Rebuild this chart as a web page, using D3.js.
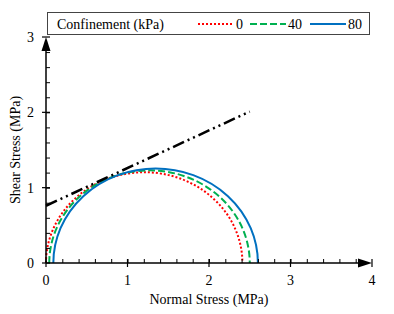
<!DOCTYPE html>
<html>
<head>
<meta charset="utf-8">
<script src="https://cdn.jsdelivr.net/npm/d3@7"></script>
<style>
  body { margin: 0; background: #fff; }
  svg { display: block; font-family: "Liberation Serif", "Times New Roman", serif; }
</style>
</head>
<body>
<svg id="chart" width="394" height="314"></svg>
<script>
// Mohr circles, one per confinement level (MPa)
const confinement = ["0", "40", "80"];
const sigma3 = [0.0, 0.04, 0.09];
const sigma1 = [2.41, 2.5, 2.6];
const colors = ["#ff0000", "#00b050", "#0070c0"];
const dashes = ["2,2", "7,3", null];
// failure envelope
const envX = [0, 2.5];
const envY = [0.76, 2.01];
const xTicks = [0, 1, 2, 3, 4];
const yTicks = [0, 1, 2, 3];

const svg = d3.select("#chart");
const margin = { left: 46, right: 22, top: 37, bottom: 51 };
const W = 394, H = 314;

const x = d3.scaleLinear().domain([0, 4]).range([margin.left, W - margin.right]);
const y = d3.scaleLinear().domain([0, 3]).range([H - margin.bottom, margin.top]);

// circles
confinement.forEach((c, i) => {
  const rx = x(sigma1[i]) - x(sigma3[i]);
  const ry = y(0) - y((sigma1[i] - sigma3[i]) / 2);
  const p = svg.append("path")
    .attr("d", `M${x(sigma3[i])},${y(0)} A${rx / 2},${ry} 0 0 1 ${x(sigma1[i])},${y(0)}`)
    .attr("fill", "none")
    .attr("stroke", colors[i])
    .attr("stroke-width", 2);
  if (dashes[i]) p.attr("stroke-dasharray", dashes[i]);
});

// envelope
svg.append("line")
  .attr("x1", x(envX[0])).attr("y1", y(envY[0]))
  .attr("x2", x(envX[1])).attr("y2", y(envY[1]))
  .attr("stroke", "#000")
  .attr("stroke-width", 2.5)
  .attr("stroke-dasharray", "12,4,2,4,2,4");

// axes
function xAxis(g) {
  g.attr("transform", `translate(0,${y(0)})`)
    .call(d3.axisBottom(x).tickValues(d3.range(0.2, 4, 0.2)).tickSize(0).tickFormat(""));
  g.select(".domain").remove();
  g.selectAll(".tick line").attr("y2", -4).attr("stroke", "#000");
}
function yAxis(g) {
  g.attr("transform", `translate(${x(0)},0)`)
    .call(d3.axisLeft(y).tickValues(d3.range(0.2, 3, 0.2)).tickSize(0).tickFormat(""));
  g.select(".domain").remove();
  g.selectAll(".tick line").attr("x2", 4).attr("stroke", "#000");
}
svg.append("g").call(xAxis);
svg.append("g").call(yAxis);

const major = svg.append("g");
major.selectAll("line.xt").data(xTicks).join("line")
  .attr("x1", (d) => x(d)).attr("x2", (d) => x(d))
  .attr("y1", y(0) - 4).attr("y2", y(0) + 4)
  .attr("stroke", "#000").attr("stroke-width", 1.2);
major.selectAll("line.yt").data(yTicks).join("line")
  .attr("x1", x(0) - 4).attr("x2", x(0) + 4)
  .attr("y1", (d) => y(d)).attr("y2", (d) => y(d))
  .attr("stroke", "#000").attr("stroke-width", 1.2);

svg.append("line")
  .attr("x1", x(0)).attr("x2", x(4) - 12)
  .attr("y1", y(0)).attr("y2", y(0))
  .attr("stroke", "#000").attr("stroke-width", 1.5);
svg.append("line")
  .attr("x1", x(0)).attr("x2", x(0))
  .attr("y1", y(0)).attr("y2", y(3) + 12)
  .attr("stroke", "#000").attr("stroke-width", 1.5);
svg.append("path")
  .attr("d", `M${x(4) - 14},${y(0) - 4.5} L${x(4)},${y(0)} L${x(4) - 14},${y(0) + 4.5} Z`)
  .attr("fill", "#000");
svg.append("path")
  .attr("d", `M${x(0) - 4.5},${y(3) + 14} L${x(0)},${y(3)} L${x(0) + 4.5},${y(3) + 14} Z`)
  .attr("fill", "#000");

svg.selectAll("text.xl").data(xTicks).join("text")
  .attr("x", (d) => x(d)).attr("y", y(0) + 22)
  .attr("text-anchor", "middle").attr("font-size", 14)
  .text((d) => d);
svg.selectAll("text.yl").data(yTicks).join("text")
  .attr("x", x(0) - 12).attr("y", (d) => y(d) + 5)
  .attr("text-anchor", "end").attr("font-size", 14)
  .text((d) => d);

svg.append("text")
  .attr("x", (x(0) + x(4)) / 2).attr("y", 304)
  .attr("text-anchor", "middle").attr("font-size", 14)
  .text("Normal Stress (MPa)");
svg.append("text")
  .attr("transform", `translate(20,${(y(0) + y(3)) / 2}) rotate(-90)`)
  .attr("text-anchor", "middle").attr("font-size", 14)
  .text("Shear Stress (MPa)");

// legend
const lg = svg.append("g");
lg.append("rect")
  .attr("x", 47.5).attr("y", 12.5).attr("width", 322).attr("height", 22)
  .attr("fill", "#fff").attr("stroke", "#444").attr("stroke-width", 1);
lg.append("text").attr("x", 57).attr("y", 29).attr("font-size", 14).text("Confinement (kPa)");
const legX = [198, 250, 310];
confinement.forEach((c, i) => {
  const l = lg.append("line")
    .attr("x1", legX[i]).attr("x2", legX[i] + 36)
    .attr("y1", 24).attr("y2", 24)
    .attr("stroke", colors[i]).attr("stroke-width", 2);
  if (dashes[i]) l.attr("stroke-dasharray", dashes[i]);
  lg.append("text").attr("x", legX[i] + 38).attr("y", 29).attr("font-size", 14).text(c);
});
</script>
</body>
</html>
